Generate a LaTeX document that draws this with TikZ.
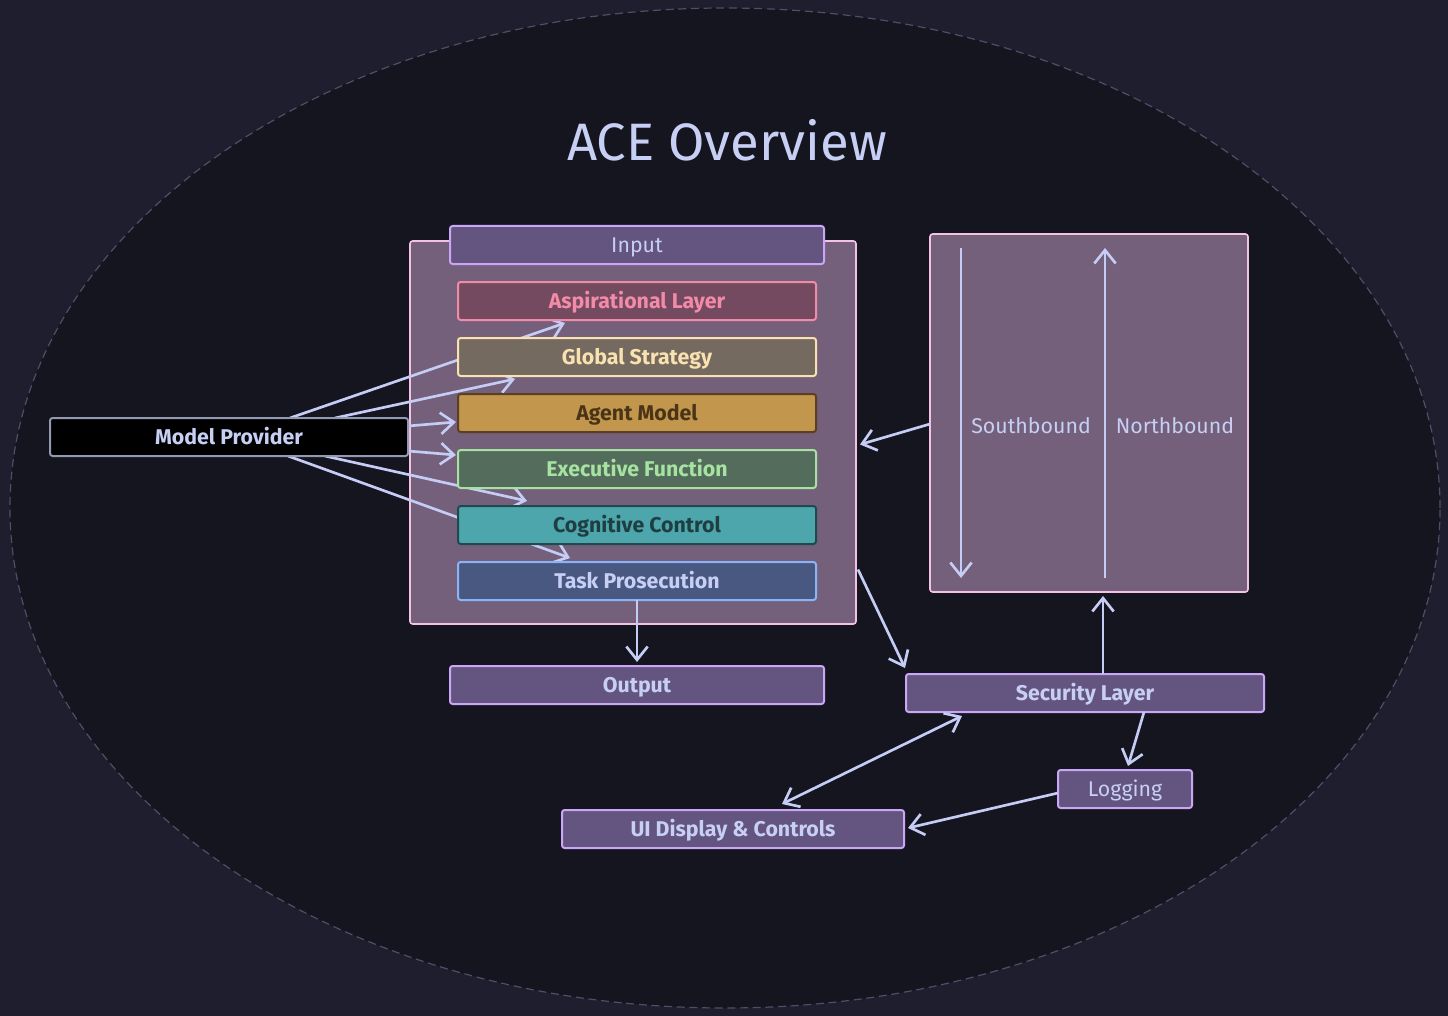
\documentclass[tikz,border=0pt]{standalone}
\usepackage{fontspec}
\setmainfont{Fira Sans}
\usetikzlibrary{arrows.meta,calc}
\definecolor{bgout}{HTML}{1E1E2E}
\definecolor{bgin}{HTML}{15151F}
\definecolor{dashc}{HTML}{4C4F66}
\definecolor{corefill}{HTML}{74607A}
\definecolor{pinkb}{HTML}{F5C2E7}
\definecolor{iofill}{HTML}{645480}
\definecolor{mauveb}{HTML}{CBA6F7}
\definecolor{txt}{HTML}{C8CFF5}
\definecolor{arr}{HTML}{C5CCF5}
\definecolor{aspfill}{HTML}{744A60}
\definecolor{aspb}{HTML}{F38BA8}
\definecolor{gsfill}{HTML}{756A60}
\definecolor{gsb}{HTML}{F9E2AF}
\definecolor{amfill}{HTML}{C2964C}
\definecolor{amb}{HTML}{5A4020}
\definecolor{amt}{HTML}{4A3418}
\definecolor{effill}{HTML}{546C5C}
\definecolor{efb}{HTML}{A6E3A1}
\definecolor{ccfill}{HTML}{4CA6AC}
\definecolor{ccb}{HTML}{1E4A4E}
\definecolor{cct}{HTML}{1E3E42}
\definecolor{tpfill}{HTML}{485880}
\definecolor{tpb}{HTML}{89B4FA}
\definecolor{mpb}{HTML}{9399B2}
\pgfdeclarelayer{bg}
\pgfdeclarelayer{arrl}
\pgfsetlayers{bg,arrl,main}
\tikzset{
  box/.style={rectangle, rounded corners=2pt, line width=1.5pt, inner sep=0pt, outer sep=0pt,
    minimum height=38*0.75pt, text height=11pt, text depth=0pt, font=\fontsize{16}{19}\selectfont},
  bbox/.style={box, font=\fontsize{16}{19}\selectfont\bfseries},
  layer/.style={bbox, minimum width=358*0.75pt},
  iobox/.style={fill=iofill, draw=mauveb, text=txt},
  conn/.style={draw=arr, line width=2pt, -{Straight Barb[length=10pt,width=16pt,line width=2pt]}},
  dconn/.style={conn, {Straight Barb[length=10pt,width=16pt,line width=2pt]}-{Straight Barb[length=10pt,width=16pt,line width=2pt]}},
}
\begin{document}
\begin{tikzpicture}[x=0.75pt,y=-0.75pt]
\begin{pgfonlayer}{bg}
\fill[bgout] (0,0) rectangle (1448,1016);
\fill[bgin] (725,508) ellipse [x radius=536.25pt, y radius=375pt];
\draw[dashc, line width=0.9pt, dash pattern=on 6pt off 3.5pt] (725,508) ellipse [x radius=536.25pt, y radius=375pt];
\node[box, fill=corefill, draw=pinkb, line width=1.2pt, minimum width=446*0.75pt, minimum height=383*0.75pt] (core) at (633,432.5) {};
\node[box, fill=corefill, draw=pinkb, line width=1.2pt, minimum width=318*0.75pt, minimum height=358*0.75pt] (rb) at (1089,413) {};
\end{pgfonlayer}
\useasboundingbox (0,0) rectangle (1448,1016);

\node[text=txt, font=\fontsize{39.5}{46}\selectfont] (title) at (727,140) {ACE Overview};

\node[box, iobox, minimum width=374*0.75pt] (in) at (637,245) {Input};
\node[layer, fill=aspfill, draw=aspb, text=aspb] (asp) at (637,301) {Aspirational Layer};
\node[layer, fill=gsfill, draw=gsb, text=gsb] (gs) at (637,357) {Global Strategy};
\node[layer, fill=amfill, draw=amb, text=amt] (am) at (637,413) {Agent Model};
\node[layer, fill=effill, draw=efb, text=efb] (ef) at (637,469) {Executive Function};
\node[layer, fill=ccfill, draw=ccb, text=cct] (cc) at (637,525) {Cognitive Control};
\node[layer, fill=tpfill, draw=tpb, text=txt] (tp) at (637,581) {Task Prosecution};
\node[bbox, iobox, minimum width=374*0.75pt] (out) at (637,685) {Output};
\node[bbox, fill=black, draw=mpb, text=txt, minimum width=358*0.75pt] (mp) at (229,437) {Model Provider};
\node[bbox, iobox, minimum width=358*0.75pt] (sec) at (1085,693) {Security Layer};
\node[box, iobox, minimum width=134*0.75pt] (log) at (1125,789) {Logging};
\node[bbox, iobox, minimum width=342*0.75pt] (ui) at (733,829) {UI Display \& Controls};

\node[text=txt, font=\fontsize{16}{19}\selectfont] (sb) at (1031,426) {Southbound};
\node[text=txt, font=\fontsize{16}{19}\selectfont] (nb) at (1175,426) {Northbound};

\begin{pgfonlayer}{arrl}
\draw[conn] ($(mp.north)+(61,0)$) -- ($(asp.south)+(-72,3)$);
\draw[conn] ($(mp.north)+(106,0)$) -- ($(gs.south)+(-122,3)$);
\draw[conn] ($(mp.east)+(0,-11)$) -- ($(am.west)+(-2,9)$);
\draw[conn] ($(mp.east)+(0,14)$) -- ($(ef.west)+(-2,-14)$);
\draw[conn] ($(mp.south)+(96,0)$) -- ($(cc.north)+(-110,-5)$);
\draw[conn] ($(mp.south)+(59,0)$) -- ($(tp.north)+(-67,-4)$);
\end{pgfonlayer}

\draw[conn] ($(rb.center)+(-128,-165)$) -- ($(rb.center)+(-128,165)$);
\draw[conn] ($(rb.center)+(16,165)$) -- ($(rb.center)+(16,-165)$);
\draw[conn] ($(rb.west)+(0,11)$) -- ($(core.east)+(4,12)$);
\draw[conn] ($(core.east)+(2,137)$) -- ($(sec.north west)+(-1,-6)$);
\draw[conn] ($(sec.north)+(18,0)$) -- ($(rb.south)+(14,4)$);
\draw[conn] ($(sec.south)+(59,0)$) -- ($(log.north)+(3,-4)$);
\draw[conn] ($(log.west)+(0,4)$) -- ($(ui.east)+(4,-1)$);
\draw[dconn] ($(ui.north)+(49,-6)$) -- ($(sec.south west)+(56,4)$);
\draw[conn] (tp.south) -- ($(out.north)+(0,-4)$);
\end{tikzpicture}
\end{document}
